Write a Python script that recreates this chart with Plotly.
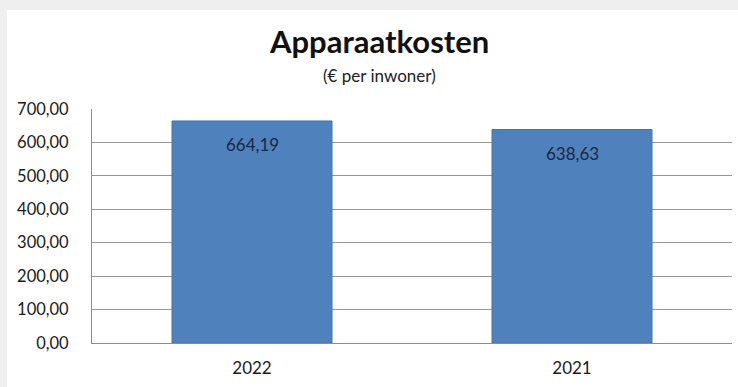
import plotly.graph_objects as go

jaren = ["2022", "2021"]
kosten = [664.19, 638.63]
labels = ["664,19", "638,63"]

FONT = "Lato"

fig = go.Figure()
fig.add_trace(go.Bar(x=jaren, y=kosten, width=0.5,
    marker_color="#4f81bd", marker_line_color="#4575b0", marker_line_width=1,
    hovertemplate="%{x}<br>%{y:.2f}<extra></extra>"))

# waardelabels in de balk, net onder de bovenkant
for i, (v, t) in enumerate(zip(kosten, labels)):
    fig.add_annotation(x=i, y=v, text=t, showarrow=False, yanchor="top", yshift=-11,
                       font=dict(family=FONT, size=17, color="#1b2740"))

# grijze rand links/boven, zoals in het origineel
fig.add_shape(type="rect", xref="paper", yref="paper", layer="below",
              x0=-85 / 640, x1=6 / 640 + 1, y0=-44 / 234, y1=(234 + 99) / 234,
              fillcolor="white", line_width=0)

fig.add_annotation(text="<b>Apparaatkosten</b>", xref="paper", yref="paper",
                   x=(379 - 92) / 640, y=(343 - 41) / 234, showarrow=False,
                   xanchor="center", yanchor="middle",
                   font=dict(family=FONT, size=31, color="#111111"))
fig.add_annotation(text="(€ per inwoner)", xref="paper", yref="paper",
                   x=(379 - 92) / 640, y=(343 - 75) / 234, showarrow=False,
                   xanchor="center", yanchor="middle",
                   font=dict(family=FONT, size=17, color="#222222"))

fig.update_layout(
    width=738, height=387,
    margin=dict(l=92, r=6, t=109, b=44, autoexpand=False),
    paper_bgcolor="#efefef", plot_bgcolor="white",
    separators=",.",
    showlegend=False,
    font=dict(family=FONT, size=16, color="#1a1a1a"),
    xaxis=dict(type="category", range=[-0.5, 1.5], showgrid=False, showline=True,
               linecolor="#8c8c8c", linewidth=1, ticks="", ticklabelstandoff=10,
               tickfont=dict(size=17)),
    yaxis=dict(range=[0, 700], dtick=100, tickformat=".2f", showgrid=True,
               gridcolor="#969696", gridwidth=1, zeroline=False,
               showline=True, linecolor="#8c8c8c", linewidth=1,
               ticklabelstandoff=19, tickfont=dict(size=16.5)),
)

fig.write_html("out.html", config={"displayModeBar": False},
               post_script="document.body.style.margin='0';")
